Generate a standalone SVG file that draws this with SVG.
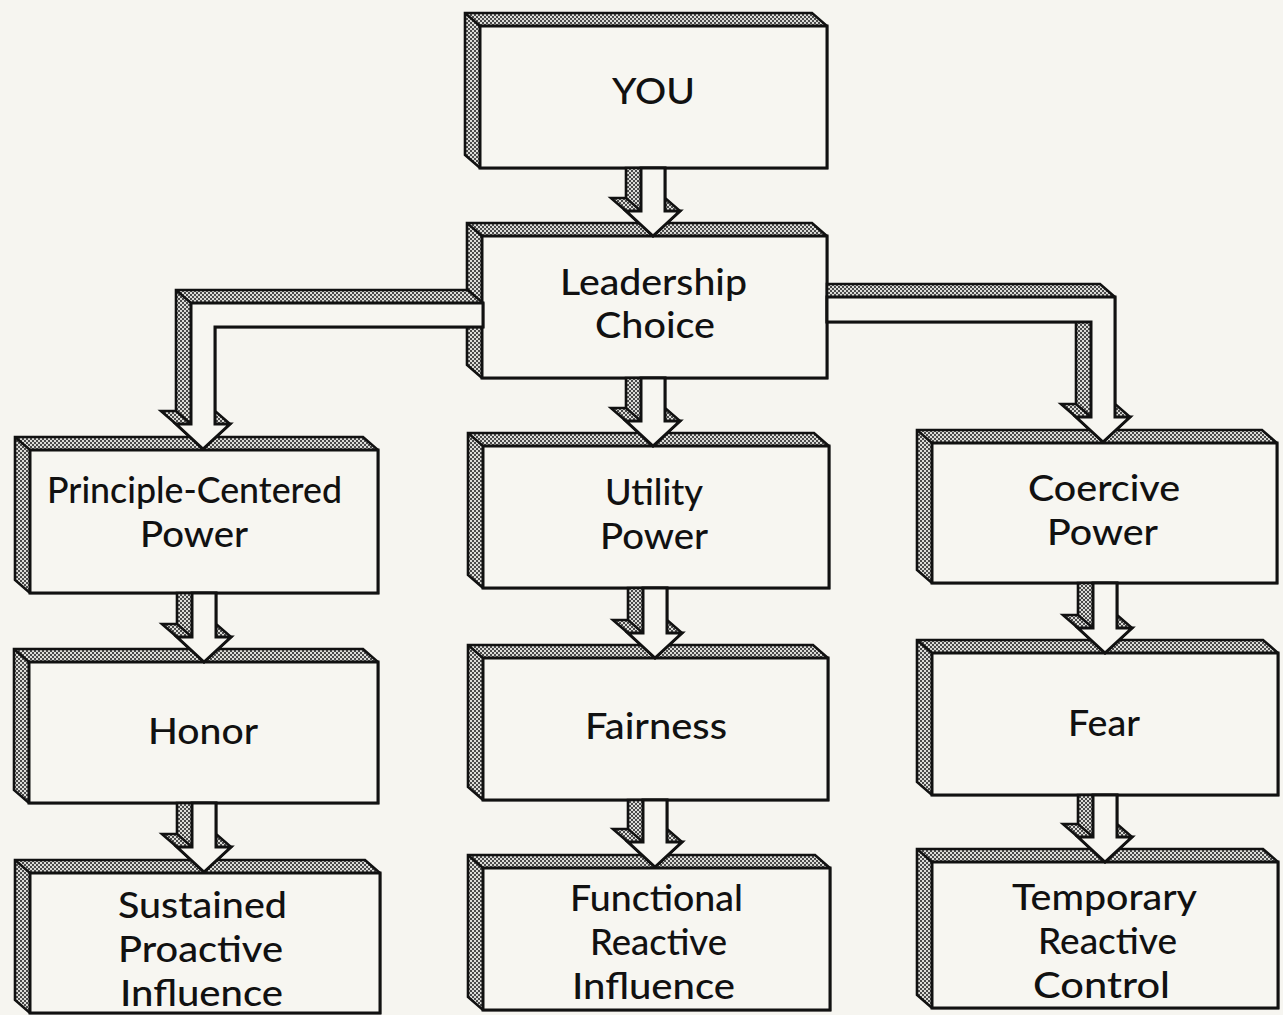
<svg xmlns="http://www.w3.org/2000/svg" width="1283" height="1015" viewBox="0 0 1283 1015">
<style>
.bevel{fill:url(#dots);stroke:#111;stroke-width:2.6;stroke-linejoin:miter}
.face{fill:#f7f6f1;stroke:#111;stroke-width:3;stroke-linejoin:miter}
.edge{fill:none;stroke:#111;stroke-width:2.4}
.lbl{font-family:Lato,"Liberation Sans","Noto Sans",sans-serif;font-size:36px;font-weight:500;fill:#111;text-anchor:middle}
</style>
<defs>
<pattern id="dots" width="4" height="4" patternUnits="userSpaceOnUse">
<rect width="4" height="4" fill="#dcdcd8"/>
<rect width="2" height="2" fill="#4a4a4a"/>
<rect x="2" y="2" width="2" height="2" fill="#4a4a4a"/>
</pattern>
</defs>
<rect width="1283" height="1015" fill="#f6f5f0"/>

<g id="node-you">
<path class="bevel" d="M465,13 H812 L827,26 V168 H480 L465,155 Z"/>
<rect class="face" x="480" y="26" width="347" height="142"/>
<path class="edge" d="M465,13 L480,26"/>
<text class="lbl" x="653.5" y="104" textLength="83" lengthAdjust="spacingAndGlyphs">YOU</text>
</g>
<g id="node-leadership">
<path class="bevel" d="M467,223 H812 L827,236 V378 H482 L467,365 Z"/>
<rect class="face" x="482" y="236" width="345" height="142"/>
<path class="edge" d="M467,223 L482,236"/>
<text class="lbl" x="653.5" y="295" textLength="187" lengthAdjust="spacingAndGlyphs">Leadership</text>
<text class="lbl" x="655" y="338" textLength="120" lengthAdjust="spacingAndGlyphs">Choice</text>
</g>
<g id="node-principle">
<path class="bevel" d="M15,437 H363 L378,450 V593 H30 L15,580 Z"/>
<rect class="face" x="30" y="450" width="348" height="143"/>
<path class="edge" d="M15,437 L30,450"/>
<text class="lbl" x="194.5" y="503" textLength="295" lengthAdjust="spacingAndGlyphs">Principle-Centered</text>
<text class="lbl" x="194" y="547" textLength="108" lengthAdjust="spacingAndGlyphs">Power</text>
</g>
<g id="node-utility">
<path class="bevel" d="M468,433 H814 L829,446 V588 H483 L468,575 Z"/>
<rect class="face" x="483" y="446" width="346" height="142"/>
<path class="edge" d="M468,433 L483,446"/>
<text class="lbl" x="654" y="505" textLength="98" lengthAdjust="spacingAndGlyphs">Utility</text>
<text class="lbl" x="654" y="549" textLength="108" lengthAdjust="spacingAndGlyphs">Power</text>
</g>
<g id="node-coercive">
<path class="bevel" d="M917,430 H1262 L1277,443 V583 H932 L917,570 Z"/>
<rect class="face" x="932" y="443" width="345" height="140"/>
<path class="edge" d="M917,430 L932,443"/>
<text class="lbl" x="1104" y="501" textLength="152" lengthAdjust="spacingAndGlyphs">Coercive</text>
<text class="lbl" x="1102.5" y="545" textLength="111" lengthAdjust="spacingAndGlyphs">Power</text>
</g>
<g id="node-honor">
<path class="bevel" d="M14,649 H363 L378,662 V803 H29 L14,790 Z"/>
<rect class="face" x="29" y="662" width="349" height="141"/>
<path class="edge" d="M14,649 L29,662"/>
<text class="lbl" x="203" y="744" textLength="110" lengthAdjust="spacingAndGlyphs">Honor</text>
</g>
<g id="node-fairness">
<path class="bevel" d="M468,645 H813 L828,658 V800 H483 L468,787 Z"/>
<rect class="face" x="483" y="658" width="345" height="142"/>
<path class="edge" d="M468,645 L483,658"/>
<text class="lbl" x="656" y="739" textLength="142" lengthAdjust="spacingAndGlyphs">Fairness</text>
</g>
<g id="node-fear">
<path class="bevel" d="M917,640 H1263 L1278,653 V795 H932 L917,782 Z"/>
<rect class="face" x="932" y="653" width="346" height="142"/>
<path class="edge" d="M917,640 L932,653"/>
<text class="lbl" x="1104" y="736" textLength="72" lengthAdjust="spacingAndGlyphs">Fear</text>
</g>
<g id="node-sustained">
<path class="bevel" d="M15,860 H365 L380,873 V1013 H30 L15,1000 Z"/>
<rect class="face" x="30" y="873" width="350" height="140"/>
<path class="edge" d="M15,860 L30,873"/>
<text class="lbl" x="202.5" y="918" textLength="169" lengthAdjust="spacingAndGlyphs">Sustained</text>
<text class="lbl" x="200.5" y="962" textLength="165" lengthAdjust="spacingAndGlyphs">Proactive</text>
<text class="lbl" x="201.5" y="1006" textLength="163" lengthAdjust="spacingAndGlyphs">Influence</text>
</g>
<g id="node-functional">
<path class="bevel" d="M468,855 H815 L830,868 V1010 H483 L468,997 Z"/>
<rect class="face" x="483" y="868" width="347" height="142"/>
<path class="edge" d="M468,855 L483,868"/>
<text class="lbl" x="656.5" y="911" textLength="173" lengthAdjust="spacingAndGlyphs">Functional</text>
<text class="lbl" x="658.5" y="955" textLength="137" lengthAdjust="spacingAndGlyphs">Reactive</text>
<text class="lbl" x="653.5" y="999" textLength="163" lengthAdjust="spacingAndGlyphs">Influence</text>
</g>
<g id="node-temporary">
<path class="bevel" d="M917,849 H1263 L1278,862 V1008 H932 L917,995 Z"/>
<rect class="face" x="932" y="862" width="346" height="146"/>
<path class="edge" d="M917,849 L932,862"/>
<text class="lbl" x="1104.5" y="910" textLength="185" lengthAdjust="spacingAndGlyphs">Temporary</text>
<text class="lbl" x="1107.5" y="954" textLength="139" lengthAdjust="spacingAndGlyphs">Reactive</text>
<text class="lbl" x="1101.5" y="998" textLength="137" lengthAdjust="spacingAndGlyphs">Control</text>
</g>

<g id="connectors">
<g transform="translate(653,236)">
<path class="bevel" d="M-27,-68 V-38 H-42 L-27,-25 L0,0 L27,-25 L12,-38 V-68 Z"/>
<path class="face" d="M-12,-68 H12 V-25 H27 L0,0 L-27,-25 H-12 Z"/>
<path class="edge" d="M-27,-38 L-12,-25"/>
</g>
<g transform="translate(653,446)">
<path class="bevel" d="M-27,-68 V-38 H-42 L-27,-25 L0,0 L27,-25 L12,-38 V-68 Z"/>
<path class="face" d="M-12,-68 H12 V-25 H27 L0,0 L-27,-25 H-12 Z"/>
<path class="edge" d="M-27,-38 L-12,-25"/>
</g>
<g transform="translate(204,662)">
<path class="bevel" d="M-27,-69 V-38 H-42 L-27,-25 L0,0 L27,-25 L12,-38 V-69 Z"/>
<path class="face" d="M-12,-69 H12 V-25 H27 L0,0 L-27,-25 H-12 Z"/>
<path class="edge" d="M-27,-38 L-12,-25"/>
</g>
<g transform="translate(204,872)">
<path class="bevel" d="M-27,-69 V-38 H-42 L-27,-25 L0,0 L27,-25 L12,-38 V-69 Z"/>
<path class="face" d="M-12,-69 H12 V-25 H27 L0,0 L-27,-25 H-12 Z"/>
<path class="edge" d="M-27,-38 L-12,-25"/>
</g>
<g transform="translate(655,658)">
<path class="bevel" d="M-27,-70 V-38 H-42 L-27,-25 L0,0 L27,-25 L12,-38 V-70 Z"/>
<path class="face" d="M-12,-70 H12 V-25 H27 L0,0 L-27,-25 H-12 Z"/>
<path class="edge" d="M-27,-38 L-12,-25"/>
</g>
<g transform="translate(655,867)">
<path class="bevel" d="M-27,-67 V-38 H-42 L-27,-25 L0,0 L27,-25 L12,-38 V-67 Z"/>
<path class="face" d="M-12,-67 H12 V-25 H27 L0,0 L-27,-25 H-12 Z"/>
<path class="edge" d="M-27,-38 L-12,-25"/>
</g>
<g transform="translate(1105,653)">
<path class="bevel" d="M-27,-70 V-38 H-42 L-27,-25 L0,0 L27,-25 L12,-38 V-70 Z"/>
<path class="face" d="M-12,-70 H12 V-25 H27 L0,0 L-27,-25 H-12 Z"/>
<path class="edge" d="M-27,-38 L-12,-25"/>
</g>
<g transform="translate(1105,862)">
<path class="bevel" d="M-27,-67 V-38 H-42 L-27,-25 L0,0 L27,-25 L12,-38 V-67 Z"/>
<path class="face" d="M-12,-67 H12 V-25 H27 L0,0 L-27,-25 H-12 Z"/>
<path class="edge" d="M-27,-38 L-12,-25"/>
</g>
<g id="conn-left">
<path class="bevel" d="M468,290 H176 V411 H161 L176,424 L203,449 L230,424 L215,411 V327 H483 V303 Z"/>
<path class="face" d="M483,303 H191 V424 H176 L203,449 L230,424 H215 V327 H483 Z"/>
<path class="edge" d="M176,290 L191,303 M176,411 L191,424"/>
</g>
<g id="conn-right">
<path class="bevel" d="M827,284 H1100 L1115,297 V404 L1130,417 L1103,442 L1076,417 L1061,404 H1076 V322 H827 Z"/>
<path class="face" d="M827,297 H1115 V417 H1130 L1103,442 L1076,417 H1091 V322 H827 Z"/>
<path class="edge" d="M1076,404 L1091,417"/>
</g>
</g>
</svg>
